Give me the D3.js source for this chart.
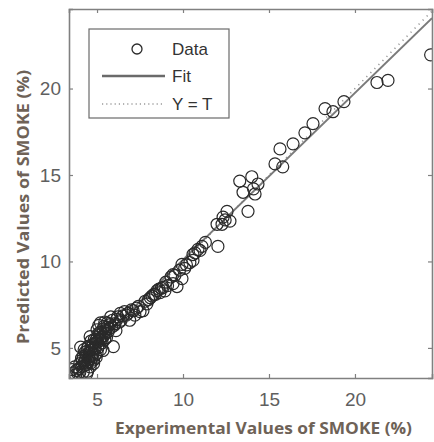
<!DOCTYPE html>
<html><head><meta charset="utf-8">
<script src="https://cdn.jsdelivr.net/npm/d3@7"></script>
<style>html,body{margin:0;padding:0;background:#fff;}svg{display:block;}</style>
</head><body>
<svg id="chart" width="434" height="442"></svg>
<script>
const expX = [3.35,3.6,3.8,3.9,4.1,4.2,4.4,4.45,4.0,4.15,4.3,4.5,4.6,4.7,4.35,4.55,4.8,4.9,4.25,4.05,4.5,4.7,4.85,5.0,5.1,5.2,5.35,4.65,4.85,5.0,5.15,5.3,5.45,4.6,5.0,5.2,5.35,5.5,5.6,5.1,5.2,5.45,5.75,5.9,5.95,6.05,6.2,6.35,6.5,6.6,6.8,7.1,7.3,7.5,7.67,7.9,8.1,8.3,8.49,8.66,8.75,8.84,8.95,9.1,9.42,9.65,9.53,9.42,9.94,9.94,10.1,10.4,10.58,10.58,10.87,10.99,11.1,12.03,11.98,12.27,12.33,12.56,12.73,12.45,13.3,13.49,13.78,14.0,14.19,14.36,14.1,15.35,15.64,15.8,16.4,17.09,17.56,18.26,18.72,19.36,21.28,21.92,24.4,
 4.3,4.6,4.9,5.05,4.75,4.4,3.7,3.95,4.2,5.25,5.5,5.7,5.8,6.0,6.3,6.1,6.9,7.2,8.2,
 3.55,3.75,4.0,4.1,4.25,4.4,4.55,4.65,4.8,4.95,4.45,4.6,4.75,4.9,5.05,5.15,5.25,5.4,5.55,5.65,4.3,4.5,4.7,4.95,5.1,5.3,5.4,5.6,5.85,6.15,6.4,6.7,7.0,7.4,7.8,8.0,8.4,8.6,9.0,9.3,9.8,10.2,10.7,11.3];
const predY = [3.4,3.55,3.7,3.5,3.9,3.6,3.5,3.65,4.1,4.3,4.0,4.2,3.9,4.4,4.6,4.7,4.1,4.6,4.9,5.05,5.1,4.9,5.0,4.7,5.2,4.9,4.85,5.4,5.5,5.6,5.5,5.3,5.5,5.65,6.05,5.9,6.1,5.85,6.2,6.3,6.45,6.5,6.35,6.6,5.07,6.4,6.8,7.0,6.85,7.1,7.0,7.15,7.3,7.1,7.15,7.55,7.9,8.1,8.31,8.2,8.45,8.5,8.3,8.6,8.72,8.55,9.2,9.24,9.01,9.83,9.6,9.94,10.06,10.4,10.7,10.64,10.87,10.87,12.15,12.15,12.56,12.9,12.33,12.4,14.65,14.0,12.9,14.9,13.9,14.48,14.2,15.64,16.51,15.47,16.8,17.44,17.97,18.84,18.66,19.24,20.35,20.47,21.95,
 4.3,4.5,5.3,5.0,5.2,4.8,3.9,3.8,4.5,5.6,6.0,6.1,6.8,6.3,6.5,6.0,6.6,6.9,8.0,
 3.75,3.45,3.6,4.4,4.15,4.05,4.35,4.15,4.3,4.45,5.0,4.85,4.65,4.95,5.35,5.75,5.45,5.7,5.6,5.95,4.75,4.45,5.05,5.45,5.85,5.65,6.25,6.45,6.2,6.65,6.6,6.9,7.2,7.4,7.7,7.8,8.1,8.4,8.8,9.1,9.5,9.8,10.5,11.1];
const xTicks = [5,10,15,20];
const yTicks = [5,10,15,20];
const xDomain = [3.37,24.48];
const yDomain = [3.26,24.6];
const fitSlope = 0.965, fitIntercept = 0.45;
const legendLabels = ["Data","Fit","Y = T"];
const xTitle = "Experimental Values of SMOKE (%)";
const yTitle = "Predicted Values of SMOKE (%)";

const svg = d3.select("#chart");
const L=69, T=9, R=432, B=378;
const x = d3.scaleLinear().domain(xDomain).range([L,R]);
const y = d3.scaleLinear().domain(yDomain).range([B,T]);
const axisCol = "#808080";

svg.append("defs").append("clipPath").attr("id","clip")
  .append("rect").attr("x",L).attr("y",T).attr("width",R-L).attr("height",B-T);

const plot = svg.append("g").attr("clip-path","url(#clip)");

// Y = T line
plot.append("line")
  .attr("x1",x(xDomain[0])).attr("y1",y(xDomain[0]))
  .attr("x2",x(xDomain[1])).attr("y2",y(xDomain[1]))
  .attr("stroke","#9a9a9a").attr("stroke-width",1.6).attr("stroke-dasharray","1.2,4.5");

// Fit line
plot.append("line")
  .attr("x1",x(xDomain[0])).attr("y1",y(fitIntercept+fitSlope*xDomain[0]))
  .attr("x2",x(xDomain[1])).attr("y2",y(fitIntercept+fitSlope*xDomain[1]))
  .attr("stroke","#7a7a7a").attr("stroke-width",2);

// data
plot.selectAll("circle.pt").data(expX.map((v,i)=>[v,predY[i]])).enter()
  .append("circle").attr("class","pt")
  .attr("cx",d=>x(d[0])).attr("cy",d=>y(d[1])).attr("r",6)
  .attr("fill","none").attr("stroke","#2a2a2a").attr("stroke-width",1.2);

// axes
const tickFont = "Liberation Sans, Arial, sans-serif";
const gx = svg.append("g").attr("transform",`translate(0,${B})`)
  .call(d3.axisBottom(x).tickValues(xTicks).tickSize(-4).tickPadding(15));
const gxt = svg.append("g").attr("transform",`translate(0,${T})`)
  .call(d3.axisTop(x).tickValues(xTicks).tickSize(-4).tickFormat(""));
const gy = svg.append("g").attr("transform",`translate(${L},0)`)
  .call(d3.axisLeft(y).tickValues(yTicks).tickSize(-4).tickPadding(8));
const gyr = svg.append("g").attr("transform",`translate(${R},0)`)
  .call(d3.axisRight(y).tickValues(yTicks).tickSize(-4).tickFormat(""));
[gx,gxt,gy,gyr].forEach(g=>{
  g.select(".domain").attr("stroke",axisCol).attr("stroke-width",1.6);
  g.selectAll(".tick line").attr("stroke",axisCol).attr("stroke-width",1.2);
  g.selectAll("text").attr("fill","#5f5f5f").style("font-family",tickFont).style("font-size","19px");
});

// axis titles
const titleCol = "#6e6257";
svg.append("text").attr("x",(L+R)/2+13).attr("y",434).attr("text-anchor","middle")
  .attr("fill",titleCol).style("font-family","Open Sans, sans-serif").style("font-weight","bold").style("font-size","16px")
  .attr("textLength",297).attr("lengthAdjust","spacingAndGlyphs").text(xTitle);
svg.append("text").attr("transform","translate(29,207) rotate(-90)").attr("text-anchor","middle")
  .attr("fill",titleCol).style("font-family","Open Sans, sans-serif").style("font-weight","bold").style("font-size","16px")
  .attr("textLength",274).attr("lengthAdjust","spacingAndGlyphs").text(yTitle);

// legend
const lg = svg.append("g");
lg.append("rect").attr("x",89).attr("y",29).attr("width",140).attr("height",89)
  .attr("fill","#fff").attr("stroke","#6a6a6a").attr("stroke-width",1.2);
const rows=[49,76,104];
lg.append("circle").attr("cx",137).attr("cy",rows[0]).attr("r",5).attr("fill","none").attr("stroke","#2a2a2a").attr("stroke-width",1.3);
lg.append("line").attr("x1",102).attr("x2",165).attr("y1",rows[1]).attr("y2",rows[1]).attr("stroke","#6a6a6a").attr("stroke-width",2.5);
lg.append("line").attr("x1",102).attr("x2",165).attr("y1",rows[2]).attr("y2",rows[2]).attr("stroke","#9a9a9a").attr("stroke-width",1.4).attr("stroke-dasharray","1.2,3");
lg.selectAll("text.lt").data(legendLabels).enter().append("text").attr("class","lt")
  .attr("x",172).attr("y",(d,i)=>rows[i]+6).attr("fill","#333")
  .style("font-family",tickFont).style("font-size","17px").text(d=>d);
</script>
</body></html>
